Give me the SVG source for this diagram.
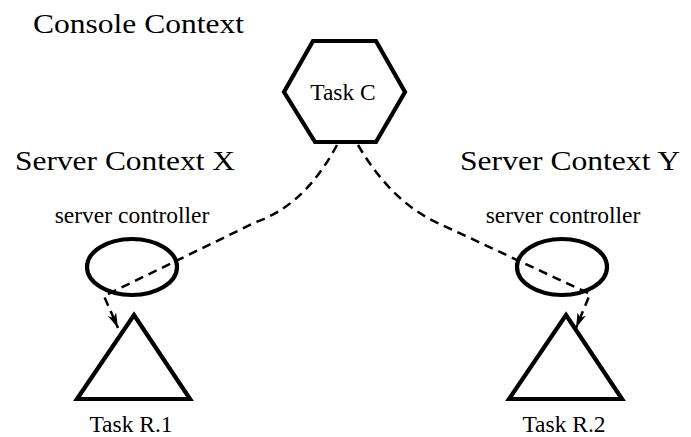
<svg xmlns="http://www.w3.org/2000/svg" width="691" height="437" viewBox="0 0 691 437">
<style>
.shape{fill:none;stroke:#000;stroke-width:4.2;stroke-linejoin:miter}
.big{font-family:"Liberation Serif","Times New Roman",serif;font-size:28px;fill:#000}
.small{font-family:"Liberation Serif","Times New Roman",serif;font-size:23.5px;fill:#000;text-anchor:middle}
.conn{fill:none;stroke:#000;stroke-width:2.5;stroke-dasharray:9 6}
</style>
<defs>
<marker id="arr" markerUnits="userSpaceOnUse" markerWidth="16" markerHeight="10" refX="15" refY="4.5" orient="auto">
<path d="M0,0 L15,4.5 L0,9 L4,4.5 z" fill="#000"/>
</marker>
</defs>
<rect width="691" height="437" fill="#fff"/>
<g id="labels">
<text class="big" x="33" y="33" textLength="211" lengthAdjust="spacingAndGlyphs">Console Context</text>
<text class="big" x="15" y="170" textLength="220" lengthAdjust="spacingAndGlyphs">Server Context X</text>
<text class="big" x="460" y="170" textLength="220" lengthAdjust="spacingAndGlyphs">Server Context Y</text>
</g>
<g id="taskC">
<polygon class="shape" points="313,41 376,41 405,92 376,142 315,142 284,92"/>
<text class="small" x="343" y="100">Task C</text>
</g>
<g id="controllerX">
<ellipse class="shape" cx="132" cy="267" rx="45" ry="28"/>
<text class="small" x="132" y="223">server controller</text>
</g>
<g id="controllerY">
<ellipse class="shape" cx="562" cy="267" rx="45" ry="28"/>
<text class="small" x="563" y="223">server controller</text>
</g>
<g id="taskR1">
<polygon class="shape" points="134,315 190,399 77,399"/>
<text class="small" x="131" y="432">Task R.1</text>
</g>
<g id="taskR2">
<polygon class="shape" points="566,315 622,399 509,399"/>
<text class="small" x="564" y="432">Task R.2</text>
</g>
<g id="connectors">
<path class="conn" d="M337,145 Q305,205 256,222 L104,296 L118,328" marker-end="url(#arr)"/>
<path class="conn" d="M358,145 Q392,203 440,224 L590,294 L576,328" marker-end="url(#arr)"/>
</g>
</svg>
